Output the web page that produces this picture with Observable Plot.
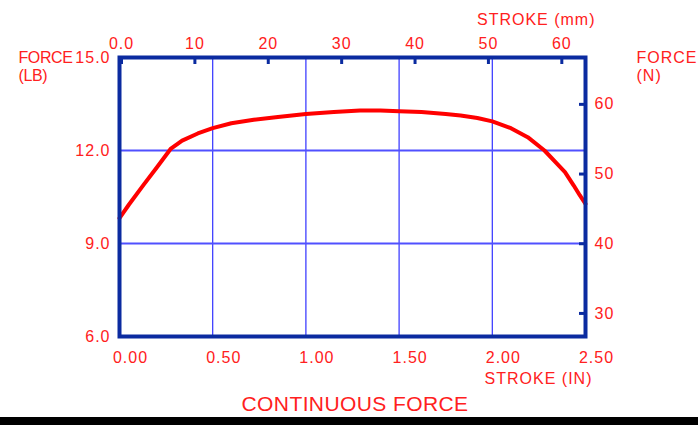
<!DOCTYPE html>
<html><head><meta charset="utf-8">
<script src="https://cdn.jsdelivr.net/npm/d3@7"></script>
<script src="https://cdn.jsdelivr.net/npm/@observablehq/plot@0.6"></script>
<style>
body{margin:0;background:#fff;width:698px;height:425px;overflow:hidden;font-family:"Liberation Sans",Arial,sans-serif}
#title{height:27px;line-height:27px;text-align:center;color:#ff2020;font-size:21px;letter-spacing:0.4px;padding-left:12px}
#band{height:8px;background:#000}
</style></head><body>
<div id="chart"></div><div id="title">CONTINUOUS FORCE</div><div id="band"></div>
<script>
const stroke_in = [0, 0.05, 0.13, 0.2, 0.274, 0.336, 0.42, 0.5, 0.6, 0.72, 0.85, 1.0, 1.15, 1.29, 1.4, 1.5, 1.62, 1.75, 1.83, 1.92, 2.0, 2.1, 2.19, 2.28, 2.348, 2.39, 2.437, 2.47, 2.5];
const force_lb  = [9.82, 10.25, 10.9, 11.45, 12.05, 12.32, 12.55, 12.72, 12.88, 12.99, 13.08, 13.18, 13.24, 13.29, 13.29, 13.27, 13.24, 13.18, 13.13, 13.05, 12.94, 12.72, 12.43, 12.0, 11.57, 11.3, 10.87, 10.55, 10.28];
const inch_ticks = [0, 0.5, 1, 1.5, 2, 2.5];
const inch_grid = [0.5, 1, 1.5, 2];
const lb_ticks = [6, 9, 12, 15];
const lb_grid = [9, 12];
const mm_ticks = [0, 10, 20, 30, 40, 50, 60];
const mm_labels = ["0.0", "10", "20", "30", "40", "50", "60"];
const newton_ticks = [30, 40, 50, 60];
const MM_PER_IN = 25.4, N_PER_LB = 4.44822;

const data = stroke_in.map((x, i) => ({x, y: force_lb[i]}));
const red = "#ff2020", navy = "#0b2ba0";
const fontFamily = "'Liberation Sans', Arial, sans-serif";

const plot = Plot.plot({
  width: 698, height: 390,
  marginLeft: 119, marginRight: 113, marginTop: 57, marginBottom: 54,
  x: {domain: [0, 2.5]},
  y: {domain: [6, 15]},
  style: {fontFamily, fontSize: "16px", color: red, background: "#fff", overflow: "visible", letterSpacing: "1px"},
  marks: [
    Plot.ruleX(inch_grid, {stroke: "#3030ff", strokeWidth: 1.2}),
    Plot.ruleY(lb_grid, {stroke: "#5050ff", strokeWidth: 2}),
    Plot.line(data, {x: "x", y: "y", stroke: "#ff0000", strokeWidth: 4, strokeLinejoin: "round", strokeLinecap: "round"}),
    Plot.frame({stroke: navy, strokeWidth: 4}),
    Plot.axisX(inch_ticks, {anchor: "bottom", tickSize: 0, tickPadding: 15, tickFormat: d3.format(".2f"), dx: 11, fill: red, label: null, fontSize: 16}),
    Plot.axisX(mm_ticks.map(m => m / MM_PER_IN), {anchor: "top", tickSize: -6, tickPadding: 15, strokeWidth: 3, stroke: navy, fill: red, dx: 2,
      tickFormat: d => mm_labels[mm_ticks.indexOf(Math.round(d * MM_PER_IN))], label: null, fontSize: 16}),
    Plot.axisY(lb_ticks, {anchor: "left", tickSize: 0, tickPadding: 9, tickFormat: d3.format(".1f"), fill: red, label: null, fontSize: 16}),
    Plot.axisY(newton_ticks.map(n => n / N_PER_LB), {anchor: "right", tickSize: -7, tickPadding: 16, strokeWidth: 3, stroke: navy, fill: red,
      tickFormat: d => String(Math.round(d * N_PER_LB)), label: null, fontSize: 16}),
    Plot.text(["FORCE\n(LB)"], {frameAnchor: "top-left", textAnchor: "start", lineAnchor: "top", dx: -101, dy: -7, fill: red, fontSize: 16, lineHeight: 1.1, style: {letterSpacing: "-0.4px"}}),
    Plot.text(["FORCE\n(N)"], {frameAnchor: "top-right", textAnchor: "start", lineAnchor: "top", dx: 51, dy: -7, fill: red, fontSize: 16, lineHeight: 1.1}),
    Plot.text(["STROKE (mm)"], {frameAnchor: "top-right", textAnchor: "end", lineAnchor: "top", dx: 10, dy: -44, fill: red, fontSize: 16}),
    Plot.text(["STROKE (IN)"], {frameAnchor: "bottom-right", textAnchor: "end", lineAnchor: "top", dx: 7, dy: 36, fill: red, fontSize: 16})
  ]
});
document.getElementById("chart").append(plot);
// tighten the left axis title so it does not run into the "15.0" tick label
plot.querySelectorAll("text").forEach(t => { if (t.textContent.startsWith("FORCE(LB)") || t.textContent === "FORCE(LB)") t.setAttribute("letter-spacing", "-0.4"); });
plot.querySelectorAll("g[aria-label='text']").forEach(g => { if (g.textContent.startsWith("FORCE(LB)")) g.setAttribute("letter-spacing", "-0.4"); });
</script>
</body></html>
